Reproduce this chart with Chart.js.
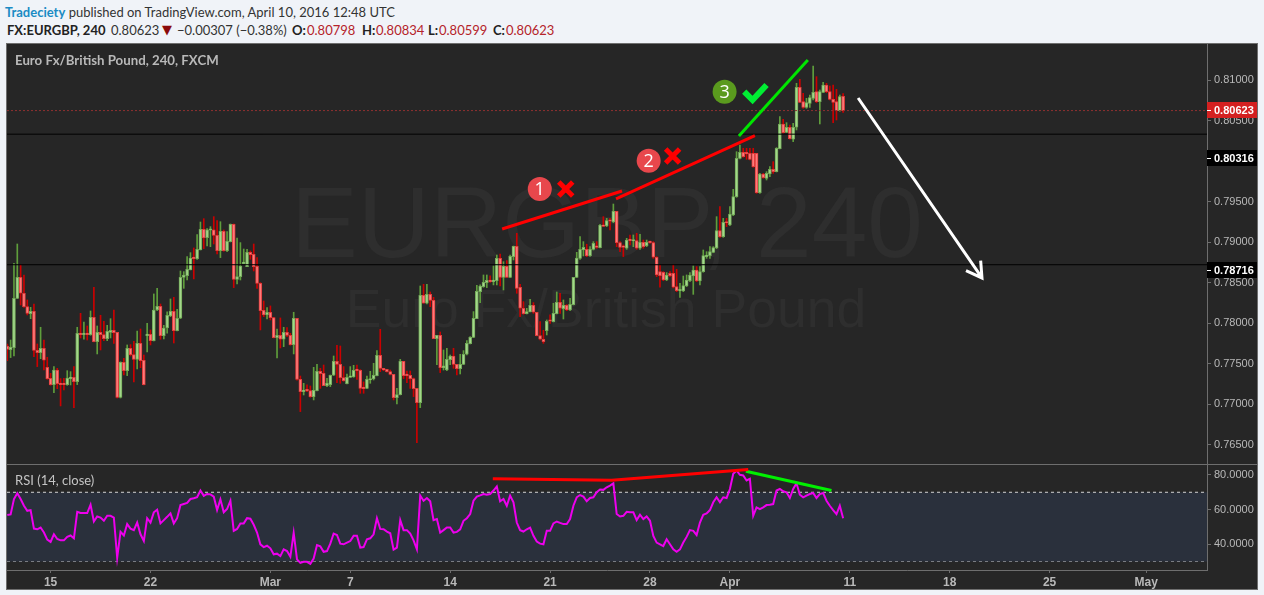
<!DOCTYPE html>
<html>
<head>
<meta charset="utf-8">
<title>EURGBP 240</title>
<script src="https://cdn.jsdelivr.net/npm/chart.js@4"></script>
<style>
html, body { margin: 0; padding: 0; background: #f0f3f8; }
body { width: 1264px; height: 595px; overflow: hidden; position: relative; font-family: "Lato", sans-serif; }
.t { position: absolute; white-space: nowrap; font-size: 13px; line-height: 18px; color: #333; }
.b { font-weight: bold; color: #222; }
.r { color: #b5232a; }
#frame { position: absolute; left: 6px; top: 43px; width: 1250px; height: 545px; background: #262626; border: 1px solid #6e6e6e; }
#mainChart { position: absolute; left: 0; top: 0; }
#sep { position: absolute; left: 0; top: 420px; width: 1250px; height: 1px; background: #6e6e6e; }
#rsiChart { position: absolute; left: 0; top: 421px; }
</style>
</head>
<body>
<div class="t" style="left:5px;top:3px"><span style="color:#1a8bc4;font-weight:bold">Tradeciety</span> published on TradingView.com, April 10, 2016 12:48 UTC</div>
<div class="t b" style="left:7px;top:21px">FX:EURGBP, 240</div>
<div class="t" style="left:111px;top:21px">0.80623</div>
<div class="t" style="left:162px;top:21px;color:#8b0a0a;font-size:13px;font-family:'DejaVu Sans'">▼</div>
<div class="t" style="left:177px;top:21px">−0.00307 (−0.38%)</div>
<div class="t b" style="left:292px;top:21px">O:</div><div class="t r" style="left:307px;top:21px">0.80798</div>
<div class="t b" style="left:362px;top:21px">H:</div><div class="t r" style="left:376px;top:21px">0.80834</div>
<div class="t b" style="left:428px;top:21px">L:</div><div class="t r" style="left:439px;top:21px">0.80599</div>
<div class="t b" style="left:493px;top:21px">C:</div><div class="t r" style="left:506px;top:21px">0.80623</div>
<div id="frame">
  <canvas id="mainChart" width="1250" height="420"></canvas>
  <div id="sep"></div>
  <canvas id="rsiChart" width="1250" height="124"></canvas>
</div>
<script>
// prices are in 1/100000 (77720 = 0.77720), one entry per 4h bar
const opens = [
77720,77675,77700,78308,78567,78370,78205,78119,78148,77667,
77638,77692,77457,77322,77244,77424,77260,77260,77244,77318,
77334,77281,77877,77860,77864,77860,78074,77774,77889,77860,
77811,77889,77914,77889,77087,77519,77416,77692,77614,77556,
77753,77544,77848,77864,77786,78164,78210,77848,77942,78090,
78148,77909,78062,78567,78588,78658,78805,78797,78904,79159,
79056,79147,79151,79085,78896,79134,78896,79007,79221,78542,
78575,78736,78699,78875,78850,78703,78493,78160,78103,78136,
78070,77823,77852,77803,77889,77852,77737,78062,77309,77157,
77174,77170,77096,77170,77408,77383,77231,77244,77359,77531,
77494,77330,77256,77334,77338,77420,77420,77198,77198,77301,
77314,77355,77605,77445,77433,77404,77371,77083,77120,77531,
77359,77359,77318,77198,77022,78345,78247,78357,78283,77811,
77852,77453,77424,77552,77597,77494,77441,77494,77618,77749,
77827,78057,78390,78452,78501,78530,78514,78526,78801,78567,
78703,78567,78822,78949,78444,78185,78119,78140,78222,78136,
77848,77803,77909,78029,78021,78119,78259,78181,78222,78164,
78230,78567,78801,78904,78912,78834,78912,78945,78933,79208,
79200,79262,79249,79381,78994,78945,78925,79027,79015,79019,
78925,78999,78958,78999,78994,78814,78637,78629,78534,78616,
78616,78452,78399,78399,78460,78526,78584,78657,78522,78637,
78822,78834,78875,78929,79142,79068,79245,79212,79336,79562,
80034,80108,80108,80096,80096,80096,79611,79841,79788,79841,
79899,79870,80154,80458,80355,80417,80269,80417,80910,80733,
80663,80712,80774,80856,80733,80848,80938,80856,80762,80733,
80622,80798];
const highs = [
77745,77794,78740,78978,78719,78596,78288,78197,78238,77745,
77951,77794,77581,77383,77466,77445,77318,77322,77416,77404,
77466,77951,78123,78016,77967,78152,78444,77967,78099,78025,
77975,78057,78164,77889,77525,77568,77733,77737,77778,77905,
77930,77609,77999,77918,78362,78431,78238,77975,78140,78300,
78320,78173,78645,78637,78822,78871,78929,79093,79249,79290,
79167,79192,79315,79266,79253,79151,79130,79225,79225,79052,
78995,78916,78912,78892,78978,78810,78501,78275,78193,78214,
78074,77930,78066,77951,77946,77877,78136,78062,77350,77260,
77240,77227,77457,77494,77445,77486,77322,77363,77597,77729,
77720,77466,77375,77466,77482,77486,77429,77277,77350,77408,
77507,77663,77926,77445,77433,77424,77371,77198,77556,77531,
77412,77412,77326,77198,78460,78481,78481,78386,78320,77852,
77893,77671,77692,77609,77692,77494,77618,77663,77786,77836,
78144,78468,78473,78596,78596,78584,78707,78842,78855,78760,
78773,78842,78953,79110,78481,78267,78185,78296,78255,78136,
78020,77914,78041,78103,78247,78386,78370,78288,78230,78308,
78567,78875,79068,79007,78975,78945,79007,79007,79221,79315,
79294,79294,79471,79381,79007,78966,79048,79089,79089,79110,
79097,79027,79027,79015,79007,78822,78719,78637,78625,78637,
78719,78666,78493,78583,78596,78625,78707,78699,78699,78904,
78883,78945,78945,79315,79438,79294,79294,79438,79652,80116,
80199,80158,80158,80158,80158,80096,79849,79849,79870,79932,
79993,80166,80548,80515,80474,80445,80466,80959,81008,80836,
80774,80815,81173,81041,80877,80971,80959,80926,80938,80885,
80815,80834];
const lows = [
77540,77577,77597,78304,78226,78197,78103,78057,77589,77466,
77564,77424,77309,77235,77145,77194,76981,77178,77235,77240,
76960,77244,77819,77803,77794,77852,77770,77622,77671,77786,
77786,77819,77753,77079,77079,77363,77355,77597,77277,77437,
77453,77240,77646,77733,77782,78156,77803,77807,77877,78082,
77757,77905,78057,78431,78534,78658,78547,78789,78904,78921,
78953,78945,78978,78855,78810,78888,78884,79003,78440,78485,
78534,78732,78699,78789,78645,78431,77918,78082,78053,78041,
77819,77572,77696,77712,77835,77729,77622,77300,76911,77116,
77157,77087,77055,77166,77198,77231,77219,77219,77355,77268,
77260,77285,77252,77334,77334,77309,77137,77137,77194,77260,
77301,77351,77404,77416,77396,77363,77055,77005,77116,77318,
77268,77198,77096,76528,76960,78247,78238,78205,77811,77490,
77392,77424,77416,77490,77445,77363,77375,77490,77609,77745,
77823,78057,78255,78444,78440,78505,78473,78473,78460,78411,
78567,78563,78781,78370,78082,78111,78115,78140,78123,77844,
77794,77753,77856,77999,78016,78115,78123,78053,78156,78156,
78226,78563,78789,78830,78822,78826,78904,78925,78929,79192,
79192,79151,79241,78945,78884,78822,78912,78966,78945,78912,
78912,78925,78945,78986,78801,78575,78444,78526,78526,78575,
78436,78390,78320,78390,78452,78514,78357,78514,78473,78629,
78801,78801,78870,78920,79060,79060,79192,79204,79327,79553,
80026,80047,80022,80014,79924,79603,79603,79788,79767,79808,
79849,79866,80150,80343,80351,80269,80240,80384,80721,80651,
80651,80663,80754,80721,80458,80844,80844,80754,80474,80507,
80614,80599];
const closes = [
77679,77708,78308,78567,78370,78205,78123,78148,77667,77638,
77692,77544,77318,77244,77424,77256,77244,77244,77326,77334,
77281,77877,77860,77864,77860,78074,77774,77889,77860,77811,
77901,77914,77885,77087,77519,77416,77692,77614,77556,77753,
77540,77244,77864,77786,78164,78210,77848,77942,78099,78148,
77909,78062,78567,78596,78666,78805,78797,78912,79159,79052,
79151,79151,79085,78896,79134,78896,79011,79221,78542,78575,
78707,78740,78875,78846,78699,78493,78156,78103,78136,78070,
77823,77852,77803,77889,77852,77737,78062,77309,77157,77174,
77166,77096,77174,77408,77379,77231,77264,77359,77531,77494,
77330,77293,77334,77346,77420,77416,77198,77194,77309,77318,
77359,77605,77445,77424,77404,77371,77083,77120,77531,77355,
77355,77318,77194,77022,78345,78247,78357,78283,77811,77852,
77453,77474,77556,77597,77494,77441,77494,77618,77753,77827,
78062,78394,78460,78505,78530,78514,78530,78801,78567,78703,
78567,78826,78949,78431,78185,78119,78144,78222,78136,77848,
77803,77774,78025,78025,78123,78259,78185,78222,78164,78234,
78567,78805,78912,78937,78830,78912,78986,78937,79212,79196,
79266,79258,79381,78994,78937,78937,79027,79019,79019,78925,
78999,78945,78999,78994,78814,78596,78588,78534,78596,78588,
78444,78403,78403,78464,78534,78596,78657,78522,78637,78834,
78842,78883,78933,79142,79068,79245,79237,79348,79562,80034,
80108,80055,80088,80022,79932,79611,79841,79796,79849,79899,
79870,80158,80458,80351,80417,80277,80417,80910,80725,80663,
80721,80782,80848,80733,80856,80938,80856,80762,80725,80622,
80795,80623];
const rsiValues = [
56.8,57.2,66.1,69.4,66.1,62.2,59.3,59.7,49.0,48.6,
49.6,46.7,42.6,41.3,45.7,43.0,42.2,42.2,44.2,45.0,
43.4,58.7,58.0,58.0,58.0,62.8,53.1,56.0,55.4,53.5,
56.4,56.4,55.4,32.1,47.1,45.0,51.6,49.0,48.1,52.5,
45.7,41.8,55.0,52.5,58.4,59.9,52.0,53.9,55.8,57.8,
52.0,55.0,62.6,63.2,63.8,66.1,66.5,67.1,71.0,67.9,
69.0,68.8,67.5,59.7,65.9,58.4,60.3,65.1,47.7,48.8,
52.0,52.0,55.0,54.7,51.2,46.7,39.9,38.3,39.1,37.6,
34.1,34.5,33.1,37.0,36.0,32.7,46.5,31.2,29.2,29.8,
29.8,28.6,31.7,39.5,38.7,35.6,36.0,40.3,46.1,45.3,
40.3,39.9,40.9,41.8,44.8,44.8,38.0,38.3,42.8,43.4,
45.7,55.0,48.8,48.6,47.3,46.3,36.8,38.0,53.9,48.1,
48.1,46.1,42.2,37.0,68.1,65.1,66.7,64.8,53.9,54.5,
46.7,48.1,49.6,49.6,46.7,47.1,48.6,53.5,55.0,57.4,
65.1,67.5,68.2,69.0,68.6,69.0,71.0,73.3,64.8,66.1,
62.2,68.1,64.2,52.5,48.1,47.3,48.6,49.6,44.8,41.5,
40.3,39.9,47.7,47.7,52.0,53.1,52.3,51.6,51.6,54.5,
62.2,67.1,68.4,67.5,64.8,66.7,67.1,70.0,71.6,71.4,
72.9,73.9,75.2,57.4,56.0,56.4,58.7,58.4,58.4,53.9,
57.0,54.5,56.0,53.5,44.8,40.9,39.9,38.9,42.8,39.9,
37.0,35.6,37.0,40.9,44.2,48.1,47.7,45.3,52.5,57.0,
57.8,59.7,64.2,67.1,64.2,67.1,66.7,71.9,80.7,82.6,
80.1,79.7,76.8,77.8,56.4,61.3,60.3,61.3,62.6,62.8,
63.2,71.0,71.9,70.6,70.0,66.7,71.9,75.2,68.6,67.1,
68.1,69.0,69.6,66.7,69.0,69.6,65.1,62.2,59.7,57.4,
62.2,55.0];

const barIndex = opens.map((v, i) => i);
const xMin = -0.09, xMax = 360.27;

const tickBars = [13, 43, 79, 103, 133, 163, 193, 217, 253, 283, 313, 342];
const tickLabels = ["15", "22", "Mar", "7", "14", "21", "28", "Apr", "11", "18", "25", "May"];
const priceTicks = [76500, 77000, 77500, 78000, 78500, 79000, 79500, 80500, 81000];
const rsiTicks = [40, 60, 80];
const levels = [80332, 78722];
const lastPrice = 80623;

// drawn lines on the price pane, in bars and prices (null = pen up)
const red1X = [148.6, 184.6], red1Y = [79163, 79631];
const red2X = [182.8, 224.5], red2Y = [79533, 80313];
const greenX = [219.7, 240.4], greenY = [80310, 81247];
const arrowX = [255.5, 292.7, null, 287.9, 292.7, 292.3];
const arrowY = [80778, 78559, null, 78649, 78559, 78772];
const crossX = [165.6, 169.8, null, 165.6, 169.8, null, 197.7, 201.9, null, 197.7, 201.9];
const crossY = [79742, 79570, null, 79570, 79742, null, 80149, 79977, null, 79977, 80149];
const checkX = [221.3, 223.8, 228.0], checkY = [80856, 80753, 80938];
const badgeX = [159.9, 192.6, 215.4], badgeY = [79656, 80005, 80856];
const badgeText = ["1", "2", "3"];
const badgeColors = ["#e8474c", "#e8474c", "#5a9a1e"];

// drawn lines on the RSI pane
const rsiRedX = [145.8, 181.5, 222.5], rsiRedY = [77.8, 77.0, 83.2];
const rsiGreenX = [221.8, 247.5], rsiGreenY = [82.2, 71.0];

const pts = (xs, ys) => xs.map((x, i) => ({ x: x, y: ys[i] }));
const isUp = i => closes[i] >= opens[i];

function lineSet(xs, ys, color, width, order) {
    return { type: "line", data: pts(xs, ys), borderColor: color, borderWidth: width, pointRadius: 0, order: order, spanGaps: false, tension: 0 };
}

const axisColor = "#6e6e6e";
const labelColor = "#b9b9b9";

const mainPlugin = {
    id: "mainText",
    beforeDatasetsDraw(chart) {
        const c = chart.ctx;
        c.save();
        c.fillStyle = "#2e2e2e";
        c.textAlign = "center";
        c.textBaseline = "alphabetic";
        c.font = "100px 'Liberation Sans'";
        c.fillText("EURGBP, 240", 600, 213);
        c.font = "53.5px 'Liberation Sans'";
        c.fillText("Euro Fx/British Pound", 599, 283);
        c.restore();
    },
    afterDraw(chart) {
        const c = chart.ctx, x = chart.scales.x, y = chart.scales.y;
        c.save();
        c.textBaseline = "middle";
        // badge numbers
        c.fillStyle = "#ffffff";
        c.textAlign = "center";
        c.font = "18px 'Open Sans'";
        badgeText.forEach((t, i) => c.fillText(t, x.getPixelForValue(badgeX[i]), y.getPixelForValue(badgeY[i]) + 1));
        // pane title
        c.textAlign = "left";
        c.fillStyle = "#b9b9b9";
        c.font = "bold 13.25px Lato";
        c.fillText("Euro Fx/British Pound, 240, FXCM", 8, 17);
        // price boxes on the axis
        const boxes = [
            { text: "0.80623", top: 58, color: "#d42020" },
            { text: "0.80316", top: 106, color: "#000000" },
            { text: "0.78716", top: 218, color: "#000000" }
        ];
        boxes.forEach(b => {
            c.fillStyle = b.color;
            c.fillRect(1200, b.top, 50, 16);
            c.fillStyle = "#ffffff";
            c.fillRect(1200, b.top + 8, 4, 1);
            c.font = "bold 11px 'Liberation Sans'";
            c.fillText(b.text, 1207, b.top + 8.5);
        });
        c.restore();
    }
};

const rsiPlugin = {
    id: "rsiText",
    afterDraw(chart) {
        const c = chart.ctx;
        c.save();
        c.fillStyle = "#c4c4c4";
        c.textBaseline = "middle";
        c.font = "13px Lato";
        c.fillText("RSI (14, close)", 8, 16);
        c.restore();
    }
};

function yAxis(min, max, ticks, fmt) {
    return {
        position: "right",
        min: min,
        max: max,
        afterBuildTicks: axis => { axis.ticks = ticks.map(v => ({ value: v })); },
        afterFit: axis => { axis.width = 50; axis.paddingTop = 0; axis.paddingBottom = 0; },
        border: { color: axisColor, width: 1 },
        grid: { drawOnChartArea: false, color: axisColor, tickLength: 4 },
        ticks: { color: labelColor, padding: 3, autoSkip: false, font: { family: "Liberation Sans", size: 11 }, callback: fmt }
    };
}

new Chart(document.getElementById("mainChart"), {
    type: "bar",
    data: {
        datasets: [
            Object.assign(lineSet([xMin, xMax], [lastPrice, lastPrice], "#8f3030", 1, 25), { borderDash: [2, 2] }),
            lineSet([xMin, xMax], [levels[0], levels[0]], "#000000", 1, 20),
            lineSet([xMin, xMax], [levels[1], levels[1]], "#000000", 1, 20),
            {
                data: barIndex.map(i => ({ x: i, y: [lows[i], highs[i]] })),
                backgroundColor: barIndex.map(i => isUp(i) ? "#5f9e3c" : "#cc0000"),
                barThickness: 1,
                grouped: false,
                order: 40
            },
            {
                data: barIndex.map(i => ({ x: i, y: [opens[i], closes[i]] })),
                backgroundColor: barIndex.map(i => isUp(i) ? "#a3d78b" : "#ff7a7a"),
                borderColor: barIndex.map(i => isUp(i) ? "#74ab5a" : "#e23c3c"),
                borderWidth: 1,
                borderSkipped: false,
                barThickness: 3,
                minBarLength: 1.5,
                grouped: false,
                order: 30
            },
            lineSet(red1X, red1Y, "#ff0000", 3, 10),
            lineSet(red2X, red2Y, "#ff0000", 3, 10),
            lineSet(greenX, greenY, "#00e600", 3, 10),
            lineSet(arrowX, arrowY, "#ffffff", 3, 10),
            lineSet(crossX, crossY, "#ff0000", 5, 10),
            lineSet(checkX, checkY, "#00ee33", 6, 10),
            {
                type: "scatter",
                data: pts(badgeX, badgeY),
                backgroundColor: badgeColors,
                borderWidth: 0,
                pointRadius: 12,
                order: 5
            }
        ]
    },
    options: {
        responsive: false,
        animation: false,
        devicePixelRatio: 1,
        layout: { padding: 0, autoPadding: false },
        plugins: { legend: { display: false }, tooltip: { enabled: false } },
        scales: {
            x: { type: "linear", min: xMin, max: xMax, offset: false, display: false },
            y: yAxis(76265, 81444, priceTicks, v => (v / 100000).toFixed(5))
        }
    },
    plugins: [mainPlugin]
});

new Chart(document.getElementById("rsiChart"), {
    type: "line",
    data: {
        datasets: [
            Object.assign(lineSet([xMin, xMax], [70, 70], "#d2d2d2", 1, 30), { borderDash: [3, 3], fill: "+1", backgroundColor: "#2a303c" }),
            Object.assign(lineSet([xMin, xMax], [30, 30], "#d2d2d2", 1, 30), { borderDash: [3, 3] }),
            lineSet(barIndex, rsiValues, "#ee00ee", 2, 20),
            lineSet(rsiRedX, rsiRedY, "#ff0000", 3, 10),
            lineSet(rsiGreenX, rsiGreenY, "#00f000", 3, 10)
        ]
    },
    options: {
        responsive: false,
        animation: false,
        devicePixelRatio: 1,
        layout: { padding: 0, autoPadding: false },
        plugins: { legend: { display: false }, tooltip: { enabled: false } },
        scales: {
            x: {
                type: "linear",
                min: xMin,
                max: xMax,
                afterBuildTicks: axis => { axis.ticks = tickBars.map(v => ({ value: v })); },
                afterFit: axis => { axis.height = 19; axis.paddingLeft = 0; axis.paddingRight = 0; },
                border: { color: axisColor, width: 1 },
                grid: { drawOnChartArea: false, color: axisColor, tickLength: 3 },
                ticks: {
                    color: labelColor,
                    padding: 2,
                    autoSkip: false,
                    maxRotation: 0,
                    font: { family: "Liberation Sans", size: 12, weight: "bold" },
                    callback: v => tickLabels[tickBars.indexOf(v)]
                }
            },
            y: yAxis(25.05, 85.77, rsiTicks, v => v.toFixed(4))
        }
    },
    plugins: [rsiPlugin]
});
</script>
</body>
</html>
